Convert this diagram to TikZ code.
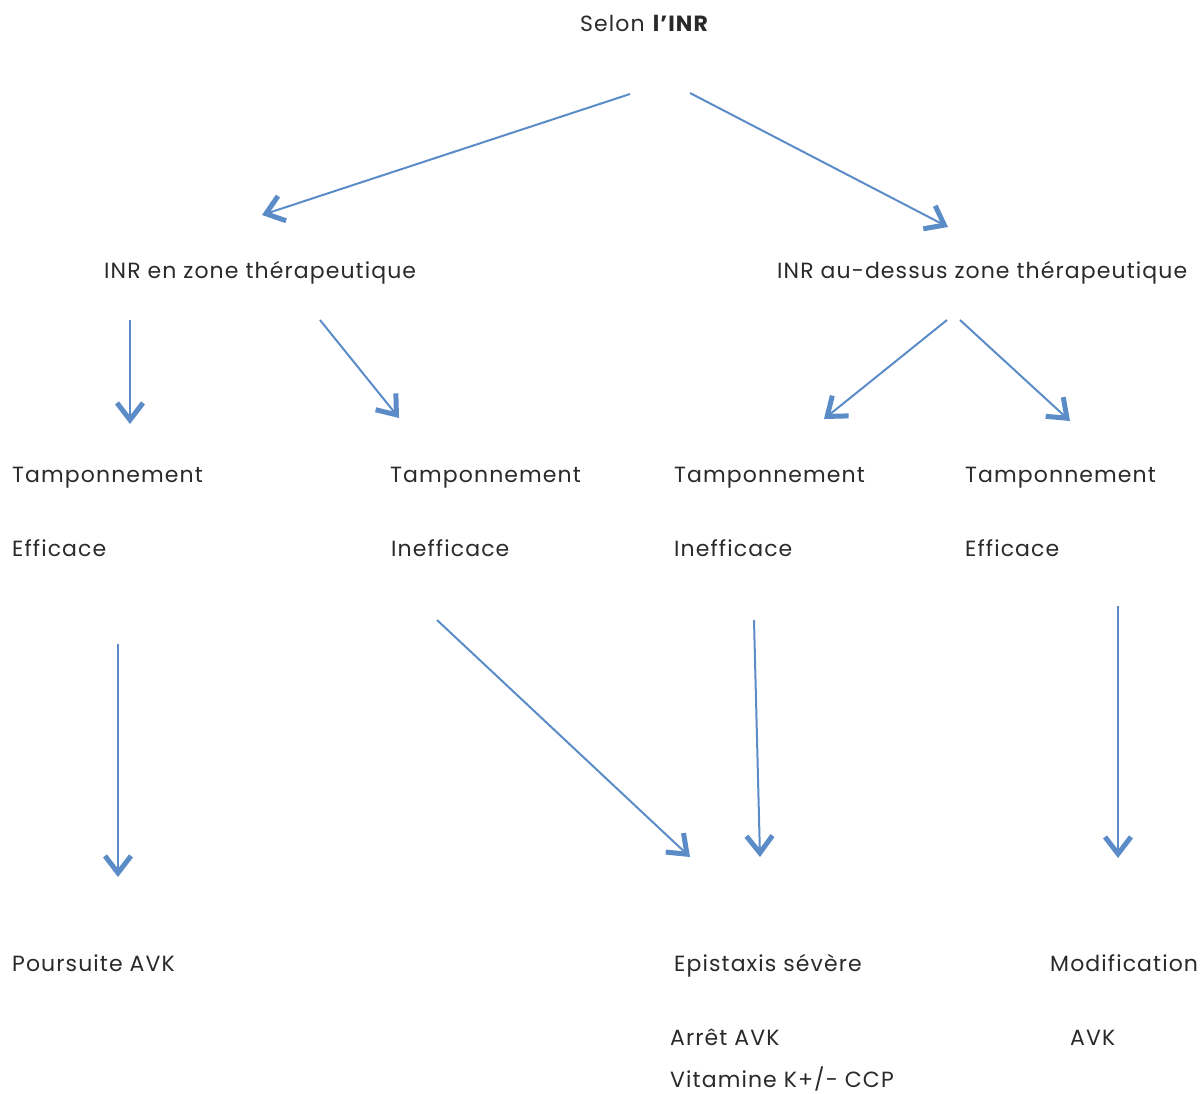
\documentclass[tikz,border=0pt]{standalone}
\usepackage{fontspec}
\setmainfont{Poppins}[LetterSpace=5]
\usetikzlibrary{arrows.meta}
\definecolor{arrowblue}{HTML}{5B8CC8}
\definecolor{txt}{HTML}{2A2A2A}
\begin{document}
\begin{tikzpicture}[x=1pt,y=-1pt,
  lbl/.style={anchor=base west,inner sep=0pt,font=\fontsize{22}{26}\selectfont,text=txt},
  conn/.style={draw=arrowblue,line width=2pt,-{Straight Barb[length=17pt,width=26pt,line width=5pt]}}]
\useasboundingbox (0,0) rectangle (1202,1093);
% texts
\node[lbl] (root) at (580,31) {Selon \textbf{l’INR}};
\node[lbl] (inrz) at (104,278) {INR en zone thérapeutique};
\node[lbl] (inra) at (777,278) {INR au-dessus zone thérapeutique};
\node[lbl] (t1) at (12,482) {Tamponnement};
\node[lbl] (e1) at (12,556) {Efficace};
\node[lbl] (t2) at (390,482) {Tamponnement};
\node[lbl] (e2) at (391,556) {Inefficace};
\node[lbl] (t3) at (674,482) {Tamponnement};
\node[lbl] (e3) at (674,556) {Inefficace};
\node[lbl] (t4) at (965,482) {Tamponnement};
\node[lbl] (e4) at (965,556) {Efficace};
\node[lbl] (pa) at (12,971) {Poursuite AVK};
\node[lbl] (es) at (674,971) {Epistaxis sévère};
\node[lbl] (mo) at (1050,971) {Modification};
\node[lbl] (aa) at (670,1045) {Arrêt AVK};
\node[lbl] (av) at (1070,1045) {AVK};
\node[lbl] (vk) at (670,1087) {Vitamine K+/- CCP};
% connector end points
\coordinate (s1) at (630,94);  \coordinate (d1) at (262,215);
\coordinate (s2) at (690,93);  \coordinate (d2) at (948,227);
\coordinate (s3) at (130,320); \coordinate (d3) at (130,424);
\coordinate (s4) at (320,320); \coordinate (d4) at (399,418);
\coordinate (s5) at (947,320); \coordinate (d5) at (824,419);
\coordinate (s6) at (960,320); \coordinate (d6) at (1070,421);
\coordinate (s7) at (118,644); \coordinate (d7) at (118,877);
\coordinate (s8) at (437,620); \coordinate (d8) at (690,857);
\coordinate (s9) at (754,620); \coordinate (d9) at (760,857);
\coordinate (s10) at (1118,606); \coordinate (d10) at (1118,858);
\foreach \i in {1,...,10} {\draw[conn] (s\i) -- (d\i);}
\end{tikzpicture}
\end{document}
